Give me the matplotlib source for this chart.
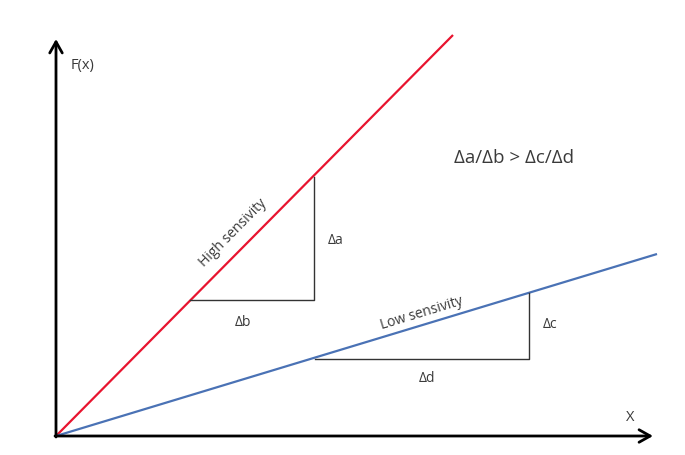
import matplotlib
matplotlib.use("Agg")
import matplotlib.pyplot as plt

# Diagram coordinates (origin at the axes' crossing)
axis_x_end = 597
axis_y_end = 397
high_line_x = [0, 397]
high_line_y = [0, 401]
low_line_x = [0, 601]
low_line_y = [0, 182]
high_tri_x = [134, 258, 258]
high_tri_y = [136, 136, 259]
low_tri_x = [259, 473, 473]
low_tri_y = [77, 77, 143]

plt.rcParams['font.family'] = ['Open Sans', 'DejaVu Sans']
fig = plt.figure(figsize=(6.85, 4.56), dpi=100)
ax = fig.add_axes([0, 0, 1, 1])
ax.set_xlim(-56, 685 - 56)
ax.set_ylim(-19, 437)
ax.axis('off')

tc = '#3a3a3a'
ap = dict(arrowstyle='->,head_length=0.8,head_width=0.45', lw=2, color='black', shrinkA=0, shrinkB=0)
ax.annotate('', xy=(0, axis_y_end), xytext=(0, -1), arrowprops=ap)
ax.annotate('', xy=(axis_x_end, 0), xytext=(-1, 0), arrowprops=ap)

ax.plot(high_line_x, high_line_y, color='#e8142f', lw=1.6, solid_capstyle='butt')
ax.plot(low_line_x, low_line_y, color='#4a72b5', lw=1.6, solid_capstyle='butt')
ax.plot(high_tri_x, high_tri_y, color='#333333', lw=1.0)
ax.plot(low_tri_x, low_tri_y, color='#333333', lw=1.0)

ax.text(27, 372, 'F(x)', fontsize=10.5, color=tc, ha='center', va='center')
ax.text(574, 19, 'X', fontsize=10.5, color=tc, ha='center', va='center')
ax.text(458, 279, 'Δa/Δb > Δc/Δd', fontsize=13.5, color=tc, ha='center', va='center')
ax.text(280, 196, 'Δa', fontsize=10, color=tc, ha='center', va='center')
ax.text(187, 115, 'Δb', fontsize=10, color=tc, ha='center', va='center')
ax.text(494, 112, 'Δc', fontsize=10, color=tc, ha='center', va='center')
ax.text(371, 58, 'Δd', fontsize=10, color=tc, ha='center', va='center')
ax.text(177, 204, 'High sensivity', fontsize=10, color=tc, ha='center', va='center', rotation=45.3,
        rotation_mode='anchor')
ax.text(366, 124, 'Low sensivity', fontsize=10, color=tc, ha='center', va='center', rotation=16.9,
        rotation_mode='anchor')

fig.savefig('out.png', dpi=100)
